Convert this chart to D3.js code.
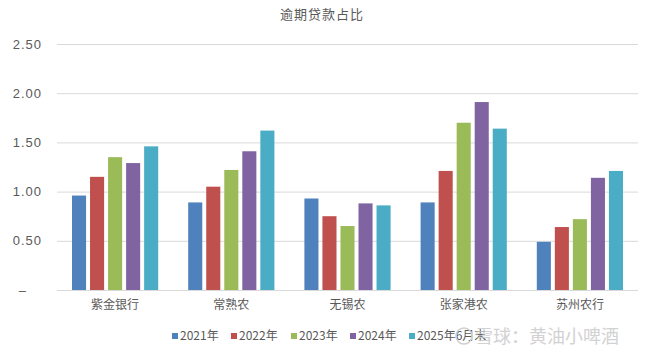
<!DOCTYPE html>
<html lang="zh">
<head>
<meta charset="utf-8">
<title>逾期贷款占比</title>
<script src="https://cdn.jsdelivr.net/npm/d3@7/dist/d3.min.js"></script>
<style>
  body { margin: 0; background: #fff; }
  text { font-family: "Noto Sans CJK SC", "DejaVu Sans", sans-serif; }
</style>
</head>
<body>
<svg width="645" height="354"></svg>
<script>
// données
var banks = ["紫金银行", "常熟农", "无锡农", "张家港农", "苏州农行"];
var series = ["2021年", "2022年", "2023年", "2024年", "2025年6月末"];
var colors = ["#4F81BD", "#C0504D", "#9BBB59", "#8064A2", "#4BACC6"];
var values2021 = [0.96, 0.89, 0.93, 0.89, 0.49];
var values2022 = [1.15, 1.05, 0.75, 1.21, 0.64];
var values2023 = [1.35, 1.22, 0.65, 1.70, 0.72];
var values2024 = [1.29, 1.41, 0.88, 1.91, 1.14];
var values2025 = [1.46, 1.62, 0.86, 1.64, 1.21];
var yTicks = [0, 0.5, 1.0, 1.5, 2.0, 2.5];

var allValues = [values2021, values2022, values2023, values2024, values2025];
var rows = [];
banks.forEach(function (b, i) {
  series.forEach(function (s, j) {
    rows.push({ bank: b, serie: s, idx: j, value: allValues[j][i] });
  });
});

var svg = d3.select("svg");

var y = d3.scaleLinear().domain([0, 2.5]).range([290, 44]);
var x0 = d3.scaleBand().domain(banks).range([57, 638]).padding(0);
var x1 = d3.scaleBand().domain(series).range([15, x0.bandwidth() - 15]).paddingInner(0.22);

// grille
var axeY = d3.axisLeft(y)
  .tickValues(yTicks)
  .tickSize(-(638 - 57))
  .tickFormat(function (d) { return d === 0 ? "–" : d3.format(".2f")(d); });

var gAxe = svg.append("g")
  .attr("transform", "translate(57,0)")
  .call(axeY);
gAxe.select(".domain").remove();
gAxe.selectAll(".tick line").attr("stroke", "#d9d9d9").attr("stroke-width", 1);
gAxe.selectAll(".tick text")
  .attr("x", -15)
  .attr("fill", "#595959")
  .style("font-family", "'Liberation Sans', Arial, sans-serif")
  .style("font-size", "13px")
  .style("letter-spacing", "1px");
gAxe.selectAll(".tick").filter(function (d) { return d === 0; }).select("text").attr("x", -30);

// barres
svg.append("g")
  .selectAll("rect")
  .data(rows)
  .enter()
  .append("rect")
    .attr("x", function (d) { return x0(d.bank) + x1(d.serie); })
    .attr("width", x1.bandwidth())
    .attr("y", function (d) { return y(d.value); })
    .attr("height", function (d) { return y(0) - y(d.value); })
    .attr("fill", function (d) { return colors[d.idx]; });

// catégories
svg.append("g")
  .selectAll("text")
  .data(banks)
  .enter()
  .append("text")
    .attr("x", function (d) { return x0(d) + x0.bandwidth() / 2; })
    .attr("y", 309)
    .attr("text-anchor", "middle")
    .attr("fill", "#595959")
    .style("font-size", "12px")
    .text(function (d) { return d; });

// titre
svg.append("text")
  .attr("x", 322)
  .attr("y", 19)
  .attr("text-anchor", "middle")
  .attr("fill", "#595959")
  .style("font-size", "13px")
  .style("letter-spacing", "1px")
  .text("逾期贷款占比");

// légende
var legendX = [172, 231, 291, 350, 409];
var leg = svg.append("g")
  .selectAll("g")
  .data(series)
  .enter()
  .append("g")
    .attr("transform", function (d, i) { return "translate(" + legendX[i] + ",333)"; });
leg.append("rect")
  .attr("width", 6).attr("height", 6)
  .attr("fill", function (d, i) { return colors[i]; });
leg.append("text")
  .attr("x", 8)
  .attr("y", 7)
  .attr("fill", "#595959")
  .style("font-size", "12px")
  .text(function (d) { return d; });

// filigrane
svg.append("text")
  .attr("x", 475)
  .attr("y", 343)
  .attr("fill", "#c8c8c8")
  .attr("opacity", 0.8)
  .style("font-size", "18px")
  .text("雪球：黄油小啤酒");
svg.append("circle")
  .attr("cx", 464).attr("cy", 336).attr("r", 8)
  .attr("fill", "none").attr("stroke", "#cfcfcf").attr("stroke-width", 1.5);
</script>
</body>
</html>
